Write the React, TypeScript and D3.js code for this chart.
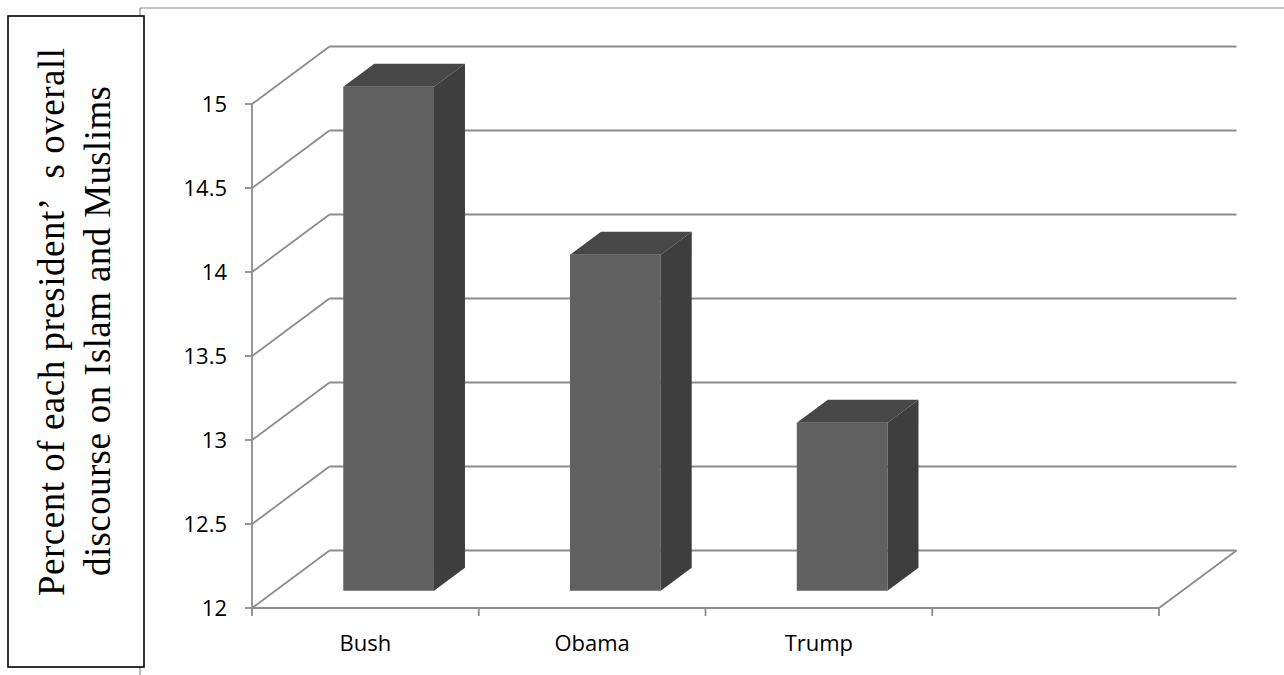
import React, { useRef, useEffect } from "react";
import * as d3 from "d3";

// data
const categories = ["Bush", "Obama", "Trump", ""];
const values = [15, 14, 13];
const yTicks = [12, 12.5, 13, 13.5, 14, 14.5, 15];
const titleLines = [
  "Percent of each president\u2019\u2002s overall",
  "discourse on Islam and Muslims",
];

const App = () => {
  const svgRef = useRef<SVGSVGElement>(null);

  useEffect(() => {
    const W = 1284;
    const H = 675;
    const svg = d3.select(svgRef.current);
    svg.selectAll("*").remove();
    svg.attr("width", W).attr("height", H);

    // 3d depth offset of the plot box
    const dx = 77.5;
    const dy = -57.5;
    const grid = "#8c8c8c";

    const x = d3.scaleBand().domain(categories).range([252, 1159]).padding(0);
    const y = d3.scaleLinear().domain([12, 15]).range([608, 104]);
    const [x0, x1] = x.range();

    // outer chart frame
    svg.append("line").attr("x1", 140).attr("y1", 8).attr("x2", 140).attr("y2", H)
      .attr("stroke", "#8a8a8a").attr("stroke-width", 1.2);
    svg.append("line").attr("x1", 140).attr("y1", 8).attr("x2", W).attr("y2", 8)
      .attr("stroke", "#8a8a8a").attr("stroke-width", 1.2);

    // title box
    svg.append("rect").attr("x", 8).attr("y", 16).attr("width", 136).attr("height", 651)
      .attr("fill", "#fff").attr("stroke", "#000").attr("stroke-width", 1.6);

    const titlePos = [
      { bx: 64, cy: 322, len: 548 },
      { bx: 110, cy: 331, len: 490 },
    ];
    titleLines.forEach((t, i) => {
      svg.append("text")
        .attr("transform", `translate(${titlePos[i].bx},${titlePos[i].cy}) rotate(-90)`)
        .attr("text-anchor", "middle")
        .attr("font-family", "'Liberation Serif', 'Times New Roman', serif")
        .attr("font-size", 37)
        .attr("textLength", titlePos[i].len)
        .attr("lengthAdjust", "spacing")
        .attr("fill", "#000")
        .text(t);
    });

    const g = svg.append("g");

    // back wall gridlines + side diagonals
    yTicks.forEach((t) => {
      const yy = y(t);
      g.append("line")
        .attr("x1", x0 + dx).attr("y1", yy + dy)
        .attr("x2", x1 + dx).attr("y2", yy + dy)
        .attr("stroke", grid).attr("stroke-width", 1.8);
      g.append("line")
        .attr("x1", x0).attr("y1", yy)
        .attr("x2", x0 + dx).attr("y2", yy + dy)
        .attr("stroke", grid).attr("stroke-width", 1.8);
    });

    // floor
    g.append("line").attr("x1", x0).attr("y1", y(12)).attr("x2", x1).attr("y2", y(12))
      .attr("stroke", grid).attr("stroke-width", 1.8);
    g.append("line").attr("x1", x1).attr("y1", y(12)).attr("x2", x1 + dx).attr("y2", y(12) + dy)
      .attr("stroke", grid).attr("stroke-width", 1.8);

    // front value axis
    g.append("line").attr("x1", x0).attr("y1", y(15)).attr("x2", x0).attr("y2", y(12))
      .attr("stroke", grid).attr("stroke-width", 1.8);
    yTicks.forEach((t) => {
      g.append("line").attr("x1", x0 - 7).attr("x2", x0).attr("y1", y(t)).attr("y2", y(t))
        .attr("stroke", grid).attr("stroke-width", 1.8);
      g.append("text")
        .attr("x", 227).attr("y", y(t)).attr("dy", "0.36em")
        .attr("text-anchor", "end")
        .attr("font-family", "'Open Sans', sans-serif")
        .attr("font-size", 22)
        .attr("fill", "#000")
        .text(String(t));
    });

    // category ticks at band edges
    const edges = categories.map((c) => x(c) as number).concat([x1]);
    edges.forEach((e) => {
      g.append("line").attr("x1", e).attr("x2", e).attr("y1", y(12)).attr("y2", y(12) + 8)
        .attr("stroke", grid).attr("stroke-width", 1.8);
    });
    categories.forEach((c) => {
      if (!c) return;
      g.append("text")
        .attr("x", (x(c) as number) + x.bandwidth() / 2)
        .attr("y", 651)
        .attr("text-anchor", "middle")
        .attr("font-family", "'Open Sans', sans-serif")
        .attr("font-size", 22)
        .attr("fill", "#000")
        .text(c);
    });

    // 3d bars: front face at 30% depth, 40% deep, 40% of band wide
    const f0 = 0.3;
    const fd = 0.4;
    const bw = x.bandwidth() * 0.4;
    values.forEach((v, i) => {
      const bx = (x(categories[i]) as number) + x.bandwidth() * 0.3 + f0 * dx;
      const yt = y(v) + f0 * dy;
      const yb = y(12) + f0 * dy;
      const ddx = fd * dx;
      const ddy = fd * dy;
      const bar = g.append("g");
      bar.append("rect")
        .attr("x", bx).attr("y", yt).attr("width", bw).attr("height", yb - yt)
        .attr("fill", "#606060");
      bar.append("polygon")
        .attr("points", [[bx, yt], [bx + bw, yt], [bx + bw + ddx, yt + ddy], [bx + ddx, yt + ddy]]
          .map((p) => p.join(",")).join(" "))
        .attr("fill", "#474747");
      bar.append("polygon")
        .attr("points", [[bx + bw, yt], [bx + bw + ddx, yt + ddy], [bx + bw + ddx, yb + ddy], [bx + bw, yb]]
          .map((p) => p.join(",")).join(" "))
        .attr("fill", "#3e3e3e");
    });
  }, []);

  return (
    <svg ref={svgRef} style={{ position: "absolute", left: 0, top: 0, background: "#fff" }}></svg>
  );
};

export default App;
